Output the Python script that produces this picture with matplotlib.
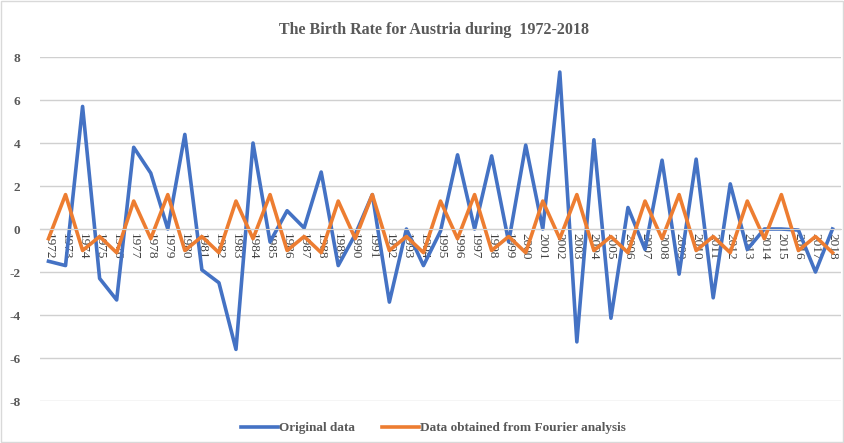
import matplotlib
matplotlib.use("Agg")
import matplotlib.pyplot as plt
from matplotlib.patches import Rectangle

# data
years = list(range(1972, 2019))
original = [-1.5, -1.7, 5.7, -2.3, -3.3, 3.8, 2.6, 0.0, 4.4, -1.9,
            -2.5, -5.6, 4.0, -0.6, 0.85, 0.05, 2.65, -1.7, -0.25, 1.6,
            -3.4, 0.0, -1.7, -0.1, 3.45, 0.0, 3.4, -0.6, 3.9, 0.0,
            7.3, -5.25, 4.15, -4.15, 1.0, -0.95, 3.2, -2.1, 3.25, -3.2,
            2.1, -0.95, 0.0, 0.0, -0.05, -2.0, 0.0]
fourier = [-0.45, 1.6, -1.0, -0.35, -1.1, 1.3, -0.45, 1.6, -1.0, -0.35,
           -1.1, 1.3, -0.45, 1.6, -1.0, -0.35, -1.1, 1.3, -0.45, 1.6,
           -1.0, -0.35, -1.1, 1.3, -0.45, 1.6, -1.0, -0.35, -1.1, 1.3,
           -0.45, 1.6, -1.0, -0.35, -1.1, 1.3, -0.45, 1.6, -1.0, -0.35,
           -1.1, 1.3, -0.45, 1.6, -1.0, -0.35, -1.1]
yticks = [-8, -6, -4, -2, 0, 2, 4, 6, 8]

serif = "Liberation Serif"
grey = "#595959"

fig = plt.figure(figsize=(8.45, 4.43), dpi=100)
fig.patches.append(Rectangle((0.001, 0.002), 0.997, 0.995, transform=fig.transFigure,
                             fill=False, edgecolor="#d9d9d9", lw=1))
ax = fig.add_axes([0.0473, 0.0948, 0.948, 0.7765])

x = list(range(len(years)))
ax.plot(x, original, color="#4472C4", lw=2.6, label="Original data")
ax.plot(x, fourier, color="#ED7D31", lw=2.6, label="Data obtained from Fourier analysis")

ax.set_xlim(-0.5, len(years) - 0.5)
ax.set_ylim(-8, 8)
ax.set_yticks(yticks)
ax.set_yticklabels([str(v) for v in yticks], fontfamily=serif, fontweight="bold",
                   fontsize=9.5, color=grey)
ax.tick_params(axis="y", length=0, pad=14)
ax.grid(axis="y", color="#d0d0d0", lw=1)
ax.set_axisbelow(True)

for s in ["top", "right", "left"]:
    ax.spines[s].set_visible(False)
ax.spines["bottom"].set_position(("data", 0))
ax.spines["bottom"].set_color("#d0d0d0")

ax.set_xticks(x)
ax.set_xticklabels([str(y) for y in years], rotation=-90, fontfamily=serif,
                   fontsize=9.5, color="#404040")
ax.tick_params(axis="x", length=0, pad=3)

fig.text(0.514, 0.932, "The Birth Rate for Austria during  1972-2018", ha="center",
         va="center", fontfamily=serif, fontweight="bold", fontsize=11.5, color=grey)

ax.legend(loc="center", ncol=2, frameon=False,
          prop={"family": serif, "weight": "bold", "size": 9.5},
          labelcolor=grey, handlelength=2.8, handletextpad=0.1, columnspacing=2.0)
leg = ax.get_legend()
leg.set_bbox_to_anchor((0.513, 0.033), transform=fig.transFigure)

fig.savefig("out.png", dpi=100)
